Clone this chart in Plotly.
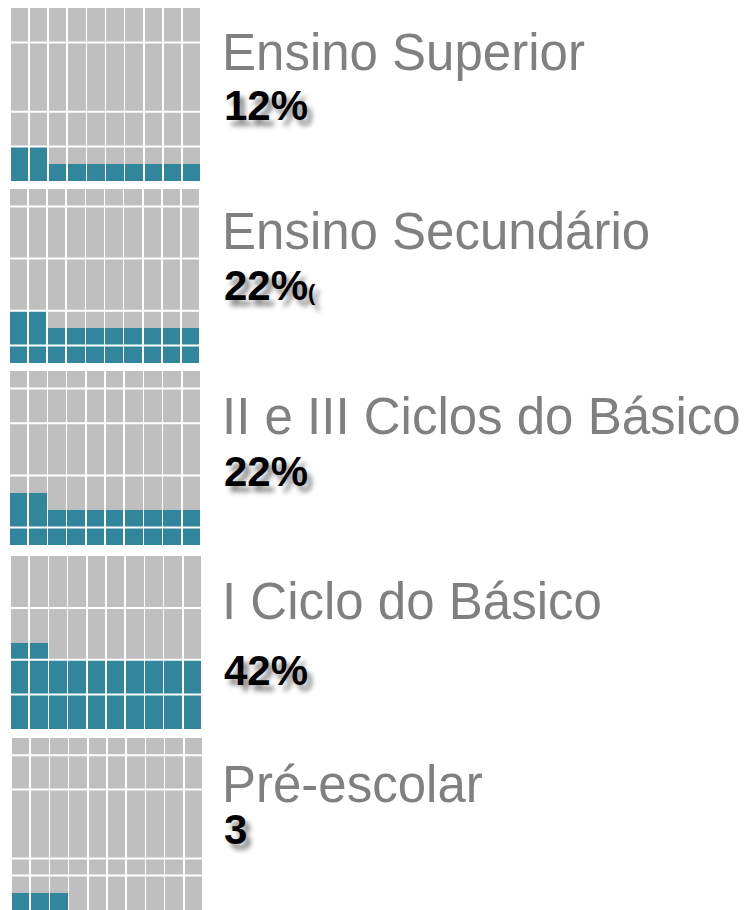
import plotly.graph_objects as go

categorias = ["Ensino Superior", "Ensino Secundário", "II e III Ciclos do Básico",
              "I Ciclo do Básico", "Pré-escolar"]
valores = [12, 22, 22, 42, 3]
rotulos = ["12%", "22%<span style='font-size:22px'>(</span>", "22%", "42%", "3"]
# linhas brancas horizontais (em unidades de celula, a partir de baixo)
linhas = [[2, 4, 8], [1, 3, 6, 9], [1, 4, 7, 9], [2, 4, 7], [2, 3, 7, 9]]

colunas = list(range(1, 11))

# a pagina tem margem de 8px no body
M = 8
W, H = 755 - M, 910 - M
# caixas dos paineis em pixeis da janela (x0, x1, y0, y1) medidos do topo
caixas = [(10, 201, 8, 181), (9, 200, 189, 363), (9, 201, 371, 545),
          (10, 202, 556, 729), (11, 203, 738, 910)]
titulo_y = [52, 232, 416, 601, 784]
numero_y = [105, 285, 471, 670, 829]

AZUL = "#31859C"
CINZA = "#BFBFBF"


def px(x):
    return (x - M) / W


def py(y):
    return 1 - (y - M) / H


fig = go.Figure()
shapes = []
annotations = []
layout = {}

for i in range(len(categorias)):
    n = "" if i == 0 else str(i + 1)
    v = valores[i]
    cheias = v // 10
    resto = v % 10
    preench = [cheias + (1 if c <= resto else 0) for c in colunas]
    vazio = [10 - p for p in preench]

    fig.add_trace(go.Bar(x=colunas, y=preench, marker_color=AZUL, marker_line_width=0,
                         xaxis="x" + n, yaxis="y" + n, showlegend=False, hoverinfo="skip"))
    fig.add_trace(go.Bar(x=colunas, y=vazio, marker_color=CINZA, marker_line_width=0,
                         xaxis="x" + n, yaxis="y" + n, showlegend=False, hoverinfo="skip"))

    x0, x1, y0, y1 = caixas[i]
    layout["xaxis" + n] = dict(domain=[max(px(x0), 0), min(px(x1), 1)], range=[0.5, 10.5],
                               visible=False, anchor="y" + n, fixedrange=True)
    layout["yaxis" + n] = dict(domain=[max(py(y1), 0), min(py(y0), 1)], range=[0, 10],
                               visible=False, anchor="x" + n, fixedrange=True)

    for b in linhas[i]:
        shapes.append(dict(type="line", xref="x" + n, yref="y" + n, x0=0.5, x1=10.5,
                           y0=b, y1=b, line=dict(color="white", width=2), layer="above"))

    annotations.append(dict(text=categorias[i], xref="paper", yref="paper",
                            x=px(220), y=py(titulo_y[i]), xanchor="left", yanchor="middle",
                            showarrow=False,
                            font=dict(family="Liberation Sans, Arial", size=51, color="#808080")))
    annotations.append(dict(text="<b>" + rotulos[i] + "</b>", xref="paper", yref="paper",
                            x=px(222), y=py(numero_y[i]), xanchor="left", yanchor="middle",
                            showarrow=False,
                            font=dict(family="Liberation Sans, Arial", size=42, color="black",
                                      shadow="5px 6px 5px rgba(0,0,0,0.45)")))

fig.update_layout(barmode="stack", bargap=0.09, width=W, height=H,
                  margin=dict(l=0, r=0, t=0, b=0), plot_bgcolor="white", paper_bgcolor="white",
                  shapes=shapes, annotations=annotations, **layout)

fig.write_html("out.html", config={"displayModeBar": False})
